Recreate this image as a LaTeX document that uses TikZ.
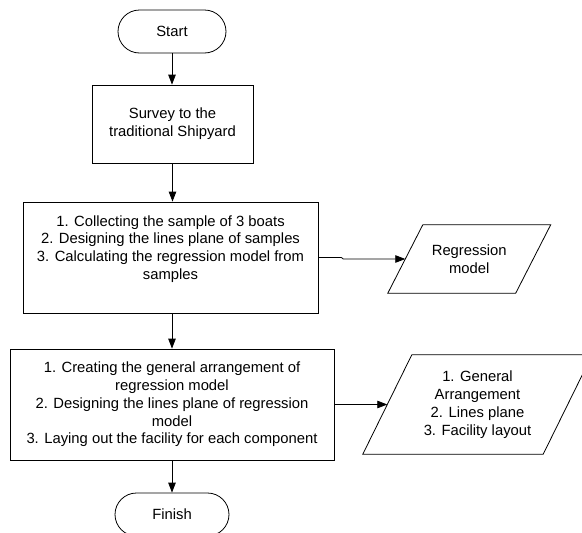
\documentclass[tikz,border=0pt]{standalone}
\usepackage{fontspec}
\setmainfont{Liberation Sans}
\usetikzlibrary{arrows.meta,calc}
\begin{document}
\begin{tikzpicture}[x=1pt,y=-1pt,
  every node/.style={font=\fontsize{14.8}{17.8}\selectfont, inner sep=0pt},
  box/.style={draw, line width=0.8pt, align=center},
  term/.style={draw, line width=0.8pt, rounded corners=21.5pt, minimum width=108pt, minimum height=43pt},
  para/.style={align=center},
  pline/.style={line width=0.8pt, line join=miter},
  arr/.style={line width=0.8pt, -{Triangle[length=10pt,width=7.5pt]}},
  txt/.style={align=center}]
\clip (0,0) rectangle (582,533);
\fill[white] (0,0) rectangle (582,533);

% Start
\node[term] (start) at (172,31.5) {Start};

% Survey
\node[box, minimum width=161pt, minimum height=78pt] (survey) at (172.5,124)
  {Survey to the\\traditional Shipyard};

% Box 3
\node[box, minimum width=295pt, minimum height=111pt] (b3) at (170.5,257.5) {};
\node[txt] (b3t) at (170.5,249)
  {1. Collecting the sample of 3 boats\\2. Designing the lines plane of samples\\3. Calculating the regression model from\\samples};

% Regression model parallelogram
\node[para, minimum width=127.5pt, minimum height=68pt] (reg) at (469.25,259)
  {Regression\\model};
\draw[pline] ([xshift=17.5pt]reg.north west) -- ([xshift=17.5pt]reg.north east)
  -- ([xshift=-17.5pt]reg.south east) -- ([xshift=-17.5pt]reg.south west) -- cycle;

% Box 4
\node[box, minimum width=324pt, minimum height=111pt] (b4) at (172,404.5)
  {1. Creating the general arrangement of\\regression model\\2. Designing the lines plane of regression\\model\\3. Laying out the facility for each component};

% Output parallelogram
\node[para, minimum width=180pt, minimum height=99pt] (out) at (477.5,404.5)
  {1. General\\Arrangement\\2. Lines plane\\3. Facility layout};
\draw[pline] ([xshift=24.5pt]out.north west) -- ([xshift=24.5pt]out.north east)
  -- ([xshift=-24.5pt]out.south east) -- ([xshift=-24.5pt]out.south west) -- cycle;

% Finish
\node[term, minimum width=114pt] (finish) at (172,514.5) {Finish};

% Connectors
\draw[arr] (start.south) -- (start.south |- survey.north);
\draw[arr] (survey.south) -- (survey.south |- b3.north);
\draw[arr] (b3.south -| b4.north) -- (b4.north);
\draw[arr] (b4.south) -- (finish.north);
\draw[arr] (b3.east) -- ++(23,0) -- ([xshift=-62pt]reg.west) -- (reg.west);
\draw[arr] (b4.east) -- ([yshift=0pt]out.west);
\end{tikzpicture}
\end{document}
